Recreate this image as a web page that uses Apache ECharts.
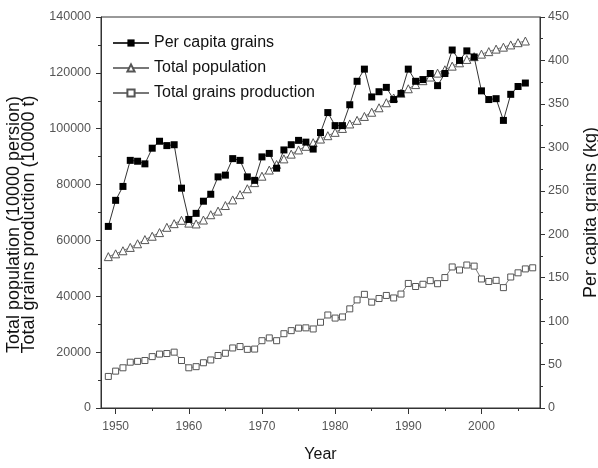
<!DOCTYPE html>
<html><head><meta charset="utf-8">
<script src="https://cdn.jsdelivr.net/npm/echarts@6/dist/echarts.min.js"></script>
<style>html,body{margin:0;padding:0;background:#fff}#c{width:598px;height:468px}</style>
</head><body><div id="c"></div>
<script>
// Years 1949..2007 (production has 2007; population & per capita end at 2006)
const years = [1949,1950,1951,1952,1953,1954,1955,1956,1957,1958,
  1959,1960,1961,1962,1963,1964,1965,1966,1967,1968,
  1969,1970,1971,1972,1973,1974,1975,1976,1977,1978,
  1979,1980,1981,1982,1983,1984,1985,1986,1987,1988,
  1989,1990,1991,1992,1993,1994,1995,1996,1997,1998,
  1999,2000,2001,2002,2003,2004,2005,2006,2007];

// Per capita grains (kg), right axis, 1949..2006
const perCapita = [209,239,255,285,284,281,299,307,302,303,
  253,217,224,238,246,266,268,287,285,266,
  262,289,293,276,297,303,308,306,298,317,
  340,325,325,349,376,390,358,364,369,355,
  362,390,376,378,385,371,385,412,400,411,
  404,365,355,356,331,361,370,374];

// Total population (10000 persons), left axis, 1949..2006
const population = [54200,55200,56300,57500,58800,60300,61500,62800,64700,66000,
  67200,66200,65900,67300,69200,70500,72500,74500,76400,78500,
  80700,83000,85200,87200,89200,90900,92400,93700,95000,96300,
  97500,98700,100100,101700,103000,104400,105900,107500,109300,111000,
  112700,114300,115800,117200,118500,119900,121100,122400,123600,124800,
  125800,126700,127600,128500,129200,130000,130800,131400];

// Total grains production (10000 t), left axis, 1949..2007
const production = [11300,13200,14400,16400,16700,17000,18400,19300,19500,20000,
  17000,14400,14800,16200,17200,18800,19600,21500,22000,21000,
  21100,24100,25100,24100,26600,27700,28600,28700,28300,30700,
  33300,32200,32600,35500,38700,40700,37900,39200,40300,39400,
  40800,44600,43500,44300,45600,44500,46700,50500,49400,51200,
  50800,46200,45300,45700,43100,46900,48400,49800,50200];

const majorYears = [1950,1960,1970,1980,1990,2000];
const minorYears = [1955,1965,1975,1985,1995,2005];

const names = ['Per capita grains','Total population','Total grains production'];

function pairs(vals){ return vals.map((v,i)=>[years[i], v]); }
const plain = v => String(v);

const axisColor = '#333';
const labelColor = '#555';
const font = 'Liberation Sans, Arial, Helvetica, sans-serif';

const chart = echarts.init(document.getElementById('c'), null, {renderer:'canvas'});
chart.setOption({
  animation:false,
  backgroundColor:'#fff',
  textStyle:{fontFamily:font},
  grid:{left:101, right:58, top:17, bottom:60, containLabel:false, outerBoundsMode:'none',
        show:true, borderColor:axisColor, borderWidth:1, backgroundColor:'transparent'},
  legend:{
    left:112, top:35, orient:'vertical', padding:0, itemGap:9,
    itemWidth:36, itemHeight:9,
    textStyle:{fontSize:16, color:'#111', fontFamily:font},
    data:names
  },
  xAxis:[{
    type:'value', min:1948, max:2008, position:'bottom',
    axisLine:{show:true, lineStyle:{color:axisColor, width:1}},
    axisTick:{show:true, length:6, customValues:majorYears, lineStyle:{color:axisColor}},
    axisLabel:{customValues:majorYears, formatter:plain, margin:13, fontSize:12, color:labelColor, fontFamily:font},
    splitLine:{show:false},
    name:'Year', nameLocation:'middle', nameGap:39,
    nameTextStyle:{fontSize:16, color:'#111', fontFamily:font}
  },{
    type:'value', min:1948, max:2008, position:'bottom',
    axisLine:{show:false},
    axisTick:{show:true, length:3, customValues:minorYears, lineStyle:{color:axisColor}},
    axisLabel:{show:false},
    splitLine:{show:false}
  }],
  yAxis:[{
    type:'value', min:0, max:140000, interval:20000, position:'left',
    axisLine:{show:true, lineStyle:{color:axisColor, width:1}},
    axisTick:{show:true, length:5, lineStyle:{color:axisColor}},
    minorTick:{show:true, splitNumber:2, length:3, lineStyle:{color:axisColor}},
    axisLabel:{formatter:plain, margin:10, fontSize:12.5, color:labelColor, fontFamily:font},
    splitLine:{show:false}, minorSplitLine:{show:false},
    name:'Total population (10000 persion)\nTotal grains production (10000 t)',
    nameLocation:'middle', nameGap:64, nameRotate:90,
    nameTextStyle:{fontSize:18, lineHeight:15, color:'#111', fontFamily:font, padding:[0,24,0,0]}
  },{
    type:'value', min:0, max:450, interval:50, position:'right',
    axisLine:{show:true, lineStyle:{color:axisColor, width:1}},
    axisTick:{show:true, length:5, lineStyle:{color:axisColor}},
    minorTick:{show:true, splitNumber:2, length:3, lineStyle:{color:axisColor}},
    axisLabel:{formatter:plain, margin:8, fontSize:12.5, color:labelColor, fontFamily:font},
    splitLine:{show:false}, minorSplitLine:{show:false},
    name:'Per capita grains (kg)',
    nameLocation:'middle', nameGap:42, nameRotate:90,
    nameTextStyle:{fontSize:18, color:'#111', fontFamily:font}
  }],
  series:[{
    name:names[0], type:'line', xAxisIndex:0, yAxisIndex:1,
    data:pairs(perCapita),
    symbol:'rect', symbolSize:7,
    itemStyle:{color:'#000'},
    lineStyle:{color:'#333', width:1},
    emphasis:{disabled:true}, z:5
  },{
    name:names[1], type:'line', xAxisIndex:0, yAxisIndex:0,
    data:pairs(population),
    symbol:'triangle', symbolSize:8,
    itemStyle:{color:'#fff', borderColor:'#555', borderWidth:1},
    lineStyle:{color:'#777', width:1},
    emphasis:{disabled:true}, z:3
  },{
    name:names[2], type:'line', xAxisIndex:0, yAxisIndex:0,
    data:pairs(production),
    symbol:'rect', symbolSize:6,
    itemStyle:{color:'#fff', borderColor:'#555', borderWidth:1},
    lineStyle:{color:'#777', width:1},
    emphasis:{disabled:true}, z:3
  }]
});
</script>
</body></html>
